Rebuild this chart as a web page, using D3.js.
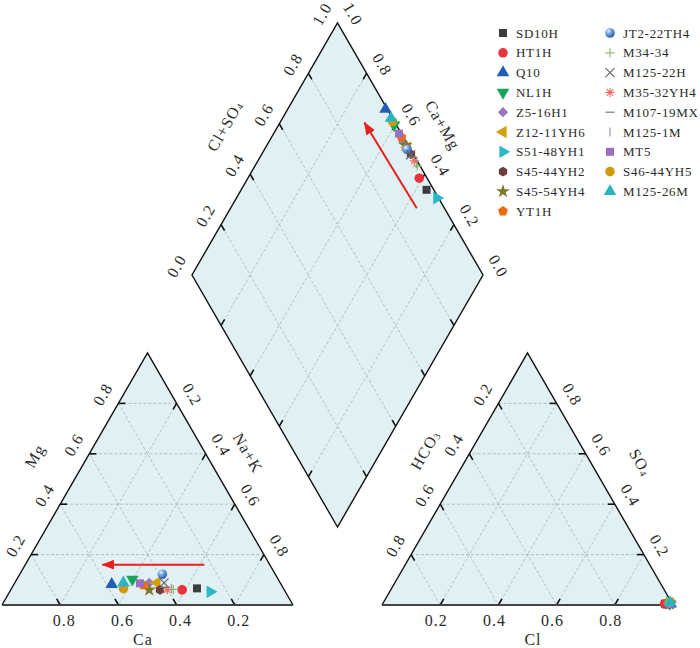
<!DOCTYPE html>
<html>
<head>
<meta charset="utf-8">
<script src="https://cdn.jsdelivr.net/npm/d3@7"></script>
<style>
    body { margin: 0; background: #fff; }
    text { font-family: "Liberation Serif", "Times New Roman", serif; fill: #2a2a2a; }
</style>
</head>
<body>
<div class="piper-container"></div>
<script>
// Data, in legend order
const samples = ['SD10H', 'HT1H', 'Q10', 'NL1H', 'Z5-16H1', 'Z12-11YH6', 'S51-48YH1', 'S45-44YH2',
    'S45-54YH4', 'YT1H', 'JT2-22TH4', 'M34-34', 'M125-22H', 'M35-32YH4', 'M107-19MX', 'M125-1M',
    'MT5', 'S46-44YH5', 'M125-26M'];

// cations (fractions)
const caVals = [0.297, 0.351, 0.582, 0.501, 0.450, 0.424, 0.258, 0.427, 0.464, 0.475,
    0.388, 0.380, 0.399, 0.402, 0.405, 0.385, 0.483, 0.550, 0.539];
const mgVals = [0.066, 0.060, 0.082, 0.102, 0.088, 0.088, 0.053, 0.060, 0.060, 0.079,
    0.122, 0.062, 0.088, 0.060, 0.070, 0.065, 0.086, 0.065, 0.088];
const naVals = [0.637, 0.589, 0.336, 0.397, 0.462, 0.488, 0.689, 0.513, 0.476, 0.446,
    0.490, 0.558, 0.513, 0.538, 0.525, 0.550, 0.431, 0.385, 0.373];

// anions (fractions)
const hco3Vals = [0.025, 0.027, 0.006, 0.008, 0.010, 0.006, 0.006, 0.008, 0.009, 0.007,
    0.012, 0.010, 0.010, 0.009, 0.008, 0.008, 0.008, 0.006, 0.005];
const so4Vals = [0.005, 0.004, 0.004, 0.006, 0.005, 0.008, 0.010, 0.006, 0.005, 0.006,
    0.004, 0.006, 0.005, 0.007, 0.006, 0.006, 0.005, 0.012, 0.010];
const clVals = [0.970, 0.969, 0.990, 0.986, 0.985, 0.986, 0.984, 0.986, 0.986, 0.987,
    0.984, 0.984, 0.985, 0.984, 0.986, 0.986, 0.987, 0.982, 0.985];

const triTicks = [0.2, 0.4, 0.6, 0.8];
const diamondTicks = [0, 0.2, 0.4, 0.6, 0.8, 1.0];

// trend arrows
const cationArrowNa = [0.615, 0.265];
const cationArrowMg = [0.16, 0.16];
const diamondArrowCaMg = [0.36, 0.71];
const diamondArrowClSO4 = [0.905, 0.895];

// Marker styles
const markerStyle = {
    'SD10H': ['square', '#3d3d3d'],
    'HT1H': ['circle', '#e8333c'],
    'Q10': ['triUp', '#1f5fb8'],
    'NL1H': ['triDown', '#1aa35a'],
    'Z5-16H1': ['diamond', '#9a78c0'],
    'Z12-11YH6': ['triLeft', '#d4a010'],
    'S51-48YH1': ['triRight', '#2ab8c8'],
    'S45-44YH2': ['hexagon', '#6e3b3b'],
    'S45-54YH4': ['star', '#7d7a2a'],
    'YT1H': ['pentagon', '#f26a10'],
    'JT2-22TH4': ['sphere', '#3a78c8'],
    'M34-34': ['plus', '#90c070'],
    'M125-22H': ['times', '#666'],
    'M35-32YH4': ['asterisk', '#f07060'],
    'M107-19MX': ['dash', '#777'],
    'M125-1M': ['vline', '#999'],
    'MT5': ['square', '#9a70c0'],
    'S46-44YH5': ['circle', '#d09a10'],
    'M125-26M': ['triUp', '#28b4c0']
};

// Geometry
const svgWidth = 700;
const svgHeight = 648;
const side = 291;
const h = side * Math.sqrt(3) / 2;
const leftOrigin = { x: 2, y: 605 };
const rightOrigin = { x: 382, y: 605 };
const diamondBottom = { x: 337.5, y: 527 };

const sx = d3.scaleLinear().domain([0, 1]).range([0, side]);
const sy = d3.scaleLinear().domain([0, 1]).range([0, h]);

// a: bottom-left corner, b: apex, c: bottom-right corner
const ternary = origin => (a, b, c) => [origin.x + sx(c + b / 2), origin.y - sy(b)];
const leftPos = ternary(leftOrigin);
const rightPos = ternary(rightOrigin);
const diamondPos = (camg, clso4) => [diamondBottom.x + sx((clso4 - camg) / 2), diamondBottom.y - sy(camg + clso4)];

const svg = d3.select('.piper-container')
    .append('svg')
    .attr('width', svgWidth)
    .attr('height', svgHeight);

const defs = svg.append('defs');
const grad = defs.append('radialGradient').attr('id', 'sphere').attr('cx', '35%').attr('cy', '30%').attr('r', '70%');
grad.append('stop').attr('offset', '0%').attr('stop-color', '#e6f0ff');
grad.append('stop').attr('offset', '45%').attr('stop-color', '#6fa0e0');
grad.append('stop').attr('offset', '100%').attr('stop-color', '#2a5fb0');

defs.append('marker')
    .attr('id', 'arrowhead')
    .attr('markerUnits', 'userSpaceOnUse')
    .attr('markerWidth', 14).attr('markerHeight', 10)
    .attr('refX', 12).attr('refY', 5)
    .attr('orient', 'auto')
    .append('path')
    .attr('d', 'M0,0L13,5L0,10Z')
    .attr('fill', '#e82020');

const line = d3.line();
const FILL = '#e1f0f3';
const GRID = '#a9b3b5';

const layerFill = svg.append('g');
const layerGrid = svg.append('g');
const layerEdge = svg.append('g');
const layerText = svg.append('g');
const layerPts = svg.append('g');

function addText(x, y, str, rot, size, sub) {
    const t = layerText.append('text')
        .attr('transform', `translate(${x},${y}) rotate(${rot})`)
        .attr('text-anchor', 'middle')
        .attr('dominant-baseline', 'central')
        .style('font-size', size + 'px')
        .style('letter-spacing', '1px')
        .text(str);
    if (sub) {
        t.append('tspan').style('font-size', (size * 0.6) + 'px').attr('dy', '0.25em').text(sub);
    }
    return t;
}

const normals = {
    left: [-Math.sqrt(3) / 2, -0.5, -60],
    right: [Math.sqrt(3) / 2, -0.5, 60]
};

// axes: comp index, index of the component that is zero on the labelled edge, edge side
function drawTriangle(pos, axes, titles) {
    const corners = [pos(1, 0, 0), pos(0, 1, 0), pos(0, 0, 1)];
    layerFill.append('path').attr('d', line(corners) + 'Z').attr('fill', FILL);

    axes.forEach(ax => {
        const other = 3 - ax.comp - ax.zero;
        triTicks.forEach(v => {
            const near = [0, 0, 0], far = [0, 0, 0];
            near[ax.comp] = v; near[other] = 1 - v;
            far[ax.comp] = v; far[ax.zero] = 1 - v;
            const p0 = pos(...near), p1 = pos(...far);
            layerGrid.append('path').attr('d', line([p0, p1]))
                .attr('stroke', GRID).attr('stroke-width', 0.8)
                .attr('stroke-dasharray', '3,2').attr('fill', 'none');
            const len = Math.hypot(p1[0] - p0[0], p1[1] - p0[1]);
            const ux = (p1[0] - p0[0]) / len, uy = (p1[1] - p0[1]) / len;
            layerEdge.append('path').attr('d', line([p0, [p0[0] + ux * 7, p0[1] + uy * 7]]))
                .attr('stroke', '#111').attr('stroke-width', 1.6);
            const lab = d3.format('.1f')(v);
            if (ax.side === 'base') {
                addText(p0[0] - ux * 8, p0[1] - uy * 8 + 9, lab, 0, 16);
            } else {
                const n = normals[ax.side];
                addText(p0[0] + n[0] * 18, p0[1] + n[1] * 18, lab, n[2], 16);
            }
        });
    });

    // edges
    layerEdge.append('path').attr('d', line([corners[0], corners[1], corners[2]]))
        .attr('stroke', '#111').attr('stroke-width', 1.4).attr('fill', 'none');
    layerEdge.append('path').attr('d', line([corners[0], corners[2]]))
        .attr('stroke', '#444').attr('stroke-width', 2.2).attr('fill', 'none');

    titles.forEach(t => addText(t.x, t.y, t.text, t.rot, 16, t.sub));
}

function edgeTitle(p, sideName, dist) {
    const n = normals[sideName];
    return { x: p[0] + n[0] * dist, y: p[1] + n[1] * dist, rot: n[2] };
}

// Left (cation) triangle: a = Ca, b = Mg, c = Na+K
drawTriangle(leftPos, [
    { comp: 1, zero: 2, side: 'left' },
    { comp: 0, zero: 1, side: 'base' },
    { comp: 2, zero: 0, side: 'right' }
], [
    Object.assign(edgeTitle(leftPos(0.5, 0.5, 0), 'left', 46), { text: 'Mg' }),
    Object.assign(edgeTitle(leftPos(0, 0.53, 0.47), 'right', 37), { text: 'Na+K' }),
    { x: leftPos(0.5, 0, 0.5)[0] - 4.5, y: leftOrigin.y + 34, rot: 0, text: 'Ca' }
]);

// Right (anion) triangle: a = HCO3, b = SO4, c = Cl
drawTriangle(rightPos, [
    { comp: 0, zero: 2, side: 'left' },
    { comp: 1, zero: 0, side: 'right' },
    { comp: 2, zero: 1, side: 'base' }
], [
    Object.assign(edgeTitle(rightPos(0.465, 0.535, 0), 'left', 40), { text: 'HCO', sub: '3' }),
    Object.assign(edgeTitle(rightPos(0, 0.48, 0.52), 'right', 43), { text: 'SO', sub: '4' }),
    { x: rightPos(0, 0, 0.5)[0] + 5.5, y: rightOrigin.y + 34, rot: 0, text: 'Cl' }
]);

// Diamond
const dCorners = [diamondPos(0, 0), diamondPos(1, 0), diamondPos(1, 1), diamondPos(0, 1)];
layerFill.append('path').attr('d', line(dCorners) + 'Z').attr('fill', FILL);
diamondTicks.filter(v => v > 0 && v < 1).forEach(v => {
    [[diamondPos(v, 0), diamondPos(v, 1)], [diamondPos(0, v), diamondPos(1, v)]].forEach(([p0, p1]) => {
        layerGrid.append('path').attr('d', line([p0, p1]))
            .attr('stroke', GRID).attr('stroke-width', 0.8)
            .attr('stroke-dasharray', '3,2').attr('fill', 'none');
        const len = Math.hypot(p1[0] - p0[0], p1[1] - p0[1]);
        const ux = (p1[0] - p0[0]) / len, uy = (p1[1] - p0[1]) / len;
        layerEdge.append('path').attr('d', line([p0, [p0[0] + ux * 7, p0[1] + uy * 7]]))
            .attr('stroke', '#111').attr('stroke-width', 1.6);
        layerEdge.append('path').attr('d', line([p1, [p1[0] - ux * 7, p1[1] - uy * 7]]))
            .attr('stroke', '#111').attr('stroke-width', 1.6);
    });
});
layerEdge.append('path').attr('d', line(dCorners) + 'Z')
    .attr('stroke', '#111').attr('stroke-width', 1.4).attr('fill', 'none');
diamondTicks.forEach(v => {
    const lab = d3.format('.1f')(v);
    let p = diamondPos(1, v), n = normals.left;
    addText(p[0] + n[0] * 18, p[1] + n[1] * 18, lab, n[2], 16);
    p = diamondPos(v, 1); n = normals.right;
    addText(p[0] + n[0] * 18, p[1] + n[1] * 18, lab, n[2], 16);
});
let tt = edgeTitle(diamondPos(1, 0.5), 'left', 46);
addText(tt.x, tt.y, 'Cl+SO', tt.rot, 16, '4');
tt = edgeTitle(diamondPos(0.515, 1), 'right', 40);
addText(tt.x, tt.y, 'Ca+Mg', tt.rot, 16);

// Markers
function polygon(n, r, start) {
    const pts = d3.range(n).map(i => {
        const a = start + i * 2 * Math.PI / n;
        return [r * Math.cos(a), r * Math.sin(a)];
    });
    return line(pts) + 'Z';
}

function drawMarker(g, name, x, y) {
    const [shape, color] = markerStyle[name];
    const m = g.append('path').attr('transform', `translate(${x},${y})`);
    const filled = d => m.attr('d', d).attr('fill', color);
    const stroked = d => m.attr('d', d).attr('fill', 'none').attr('stroke', color).attr('stroke-width', 1.2);
    switch (shape) {
        case 'square': filled(d3.symbol(d3.symbolSquare, 64)()); break;
        case 'circle': filled(d3.symbol(d3.symbolCircle, 72)()); break;
        case 'sphere': m.attr('d', d3.symbol(d3.symbolCircle, 72)()).attr('fill', 'url(#sphere)'); break;
        case 'triUp': filled(d3.symbol(d3.symbolTriangle, 68)()); break;
        case 'triDown': filled(d3.symbol(d3.symbolTriangle, 68)()); m.attr('transform', `translate(${x},${y}) rotate(180)`); break;
        case 'triLeft': filled(d3.symbol(d3.symbolTriangle, 68)()); m.attr('transform', `translate(${x},${y}) rotate(-90)`); break;
        case 'triRight': filled(d3.symbol(d3.symbolTriangle, 68)()); m.attr('transform', `translate(${x},${y}) rotate(90)`); break;
        case 'diamond': filled(d3.symbol(d3.symbolSquare, 52)()); m.attr('transform', `translate(${x},${y}) rotate(45)`); break;
        case 'hexagon': filled(polygon(6, 4.8, Math.PI / 6)); break;
        case 'pentagon': filled(polygon(5, 5.2, -Math.PI / 2)); break;
        case 'star': filled(d3.symbol(d3.symbolStar, 60)()); break;
        case 'plus': stroked('M-4.5,0H4.5M0,-4.5V4.5'); break;
        case 'times': stroked('M-4.5,-4.5L4.5,4.5M-4.5,4.5L4.5,-4.5'); break;
        case 'asterisk': stroked('M-4.5,0H4.5M0,-4.5V4.5M-3.2,-3.2L3.2,3.2M-3.2,3.2L3.2,-3.2'); break;
        case 'dash': stroked('M-4.5,0H4.5'); break;
        case 'vline': stroked('M0,-4.5V4.5'); break;
    }
}

samples.forEach((name, i) => {
    const pL = leftPos(caVals[i], mgVals[i], naVals[i]);
    drawMarker(layerPts, name, pL[0], pL[1]);
    const pR = rightPos(hco3Vals[i], so4Vals[i], clVals[i]);
    drawMarker(layerPts, name, pR[0], pR[1]);
    const pD = diamondPos(caVals[i] + mgVals[i], clVals[i] + so4Vals[i]);
    drawMarker(layerPts, name, pD[0], pD[1]);
});

// Trend arrows
const arrowPts = [
    cationArrowNa.map((na, i) => leftPos(1 - na - cationArrowMg[i], cationArrowMg[i], na)),
    diamondArrowCaMg.map((c, i) => diamondPos(c, diamondArrowClSO4[i]))
];
arrowPts.forEach(pts => {
    layerPts.append('path').attr('d', line(pts))
        .attr('stroke', '#e82020').attr('stroke-width', 2)
        .attr('fill', 'none').attr('marker-end', 'url(#arrowhead)');
});

// Legend
const legend = svg.append('g');
samples.forEach((name, i) => {
    const col = i < 10 ? 0 : 1;
    const row = i < 10 ? i : i - 10;
    const x = col === 0 ? 503 : 610;
    const y = 33 + row * 19.8;
    drawMarker(legend, name, x, y);
    legend.append('text')
        .attr('x', x + 13).attr('y', y)
        .attr('dominant-baseline', 'central')
        .style('font-size', '13px')
        .style('letter-spacing', '0.7px')
        .text(name);
});
</script>
</body>
</html>
